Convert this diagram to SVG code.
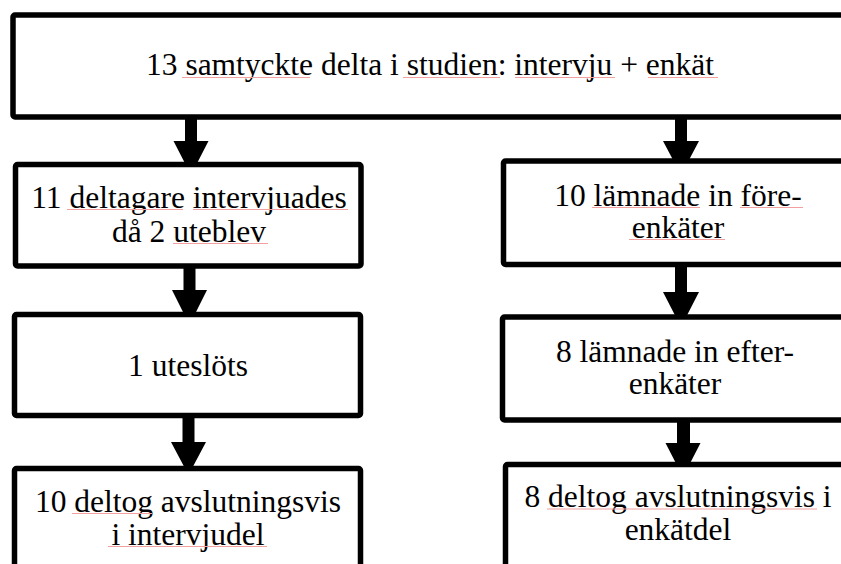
<svg xmlns="http://www.w3.org/2000/svg" width="841" height="564" viewBox="0 0 841 564">
<style>
.box{fill:#fff;stroke:#000;stroke-width:5.5;stroke-linejoin:round}
.t{font-family:"Liberation Serif","Times New Roman",serif;font-size:31.5px;fill:#000;text-anchor:middle}
.sq{stroke:#f2a0a0;stroke-width:1.2;fill:none}
.arr{fill:#000}
</style>
<rect width="841" height="564" fill="#fff"/>
<g id="connectors">
<path class="arr" d="M185,117 H197 V141 H208.5 L191,175 L173.5,141 H185 Z"/>
<path class="arr" d="M183.5,266 H195.5 V290 H207 L189.5,325 L172,290 H183.5 Z"/>
<path class="arr" d="M182.5,416 H194.5 V442 H206 L188.5,475 L171,442 H182.5 Z"/>
<path class="arr" d="M675,117 H687 V141 H699 L681,175 L663,141 H675 Z"/>
<path class="arr" d="M675,264 H687 V292 H699 L681,327 L663,292 H675 Z"/>
<path class="arr" d="M677,420 H690 V443 H700.5 L683,477 L665.5,443 H677 Z"/>
</g>
<g id="n-top">
<rect class="box" x="13" y="15" width="840" height="102" rx="2"/>
<text class="t" x="430" y="75">13 samtyckte delta i studien: intervju + enkät</text>
<path class="sq" d="M182,77.5 H310 M403,77.5 H500 M515,77.5 H615 M648,77.5 H718"/>
</g>
<g id="n-intervjuades">
<rect class="box" x="15.5" y="164.5" width="345.5" height="101.5" rx="2"/>
<text class="t" x="189" y="208">11 deltagare intervjuades</text>
<text class="t" x="189" y="242">då 2 uteblev</text>
<path class="sq" d="M67,209.5 H183 M193,209.5 H348 M173,243.5 H268"/>
</g>
<g id="n-uteslots">
<rect class="box" x="14.5" y="314.5" width="346" height="101" rx="2"/>
<text class="t" x="188" y="376">1 uteslöts</text>
</g>
<g id="n-intervjudel">
<rect class="box" x="14.5" y="468.5" width="346" height="200" rx="2"/>
<text class="t" x="188" y="512">10 deltog avslutningsvis</text>
<text class="t" x="188" y="545">i intervjudel</text>
<path class="sq" d="M72,513.5 H152 M108,546.5 H267"/>
</g>
<g id="n-fore">
<rect class="box" x="503.5" y="161" width="400" height="103.5" rx="2"/>
<text class="t" x="678" y="206">10 lämnade in före-</text>
<text class="t" x="678" y="238">enkäter</text>
<path class="sq" d="M592,207.5 H700 M740,207.5 H803 M629,239.5 H725"/>
</g>
<g id="n-efter">
<rect class="box" x="502.5" y="317" width="400" height="103" rx="2"/>
<text class="t" x="675" y="362">8 lämnade in efter-</text>
<text class="t" x="675" y="394">enkäter</text>
</g>
<g id="n-enkatdel">
<rect class="box" x="505.5" y="464.5" width="400" height="200" rx="2"/>
<text class="t" x="678" y="507">8 deltog avslutningsvis i</text>
<text class="t" x="678" y="540">enkätdel</text>
<path class="sq" d="M547,509 H817"/>
</g>
</svg>
